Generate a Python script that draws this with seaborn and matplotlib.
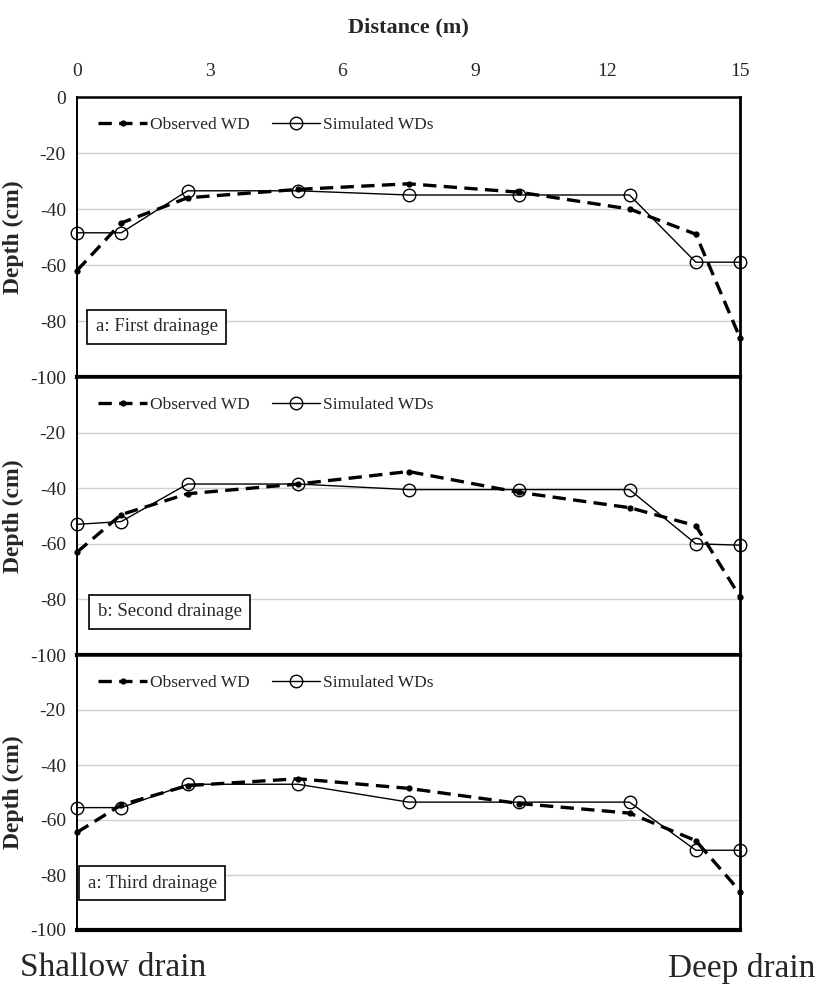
import seaborn as sns
import matplotlib.pyplot as plt
import pandas as pd
from matplotlib.lines import Line2D

# ---------------------------------------------------------------
# Data — water table depth along the drain spacing
# ---------------------------------------------------------------

distance = [0, 1, 2.5, 5, 7.5, 10, 12.5, 14, 15]

obs_first = [-62, -45, -36, -33, -31, -34, -40, -49, -86]
sim_first = [-48.5, -48.5, -33.5, -33.5, -35, -35, -35, -59, -59]

obs_second = [-63, -49.5, -42, -38.5, -34, -41.5, -47, -53.5, -79]
sim_second = [-53, -52, -38.5, -38.5, -40.5, -40.5, -40.5, -60, -60.5]

obs_third = [-64.5, -54.5, -47.5, -45, -48.5, -54, -57.5, -67.5, -86]
sim_third = [-55.5, -55.5, -47, -47, -53.5, -53.5, -53.5, -71, -71]

panel_labels = ["a: First drainage", "b: Second drainage", "a: Third drainage"]
x_ticks = [0, 3, 6, 9, 12, 15]

panels = [(obs_first, sim_first), (obs_second, sim_second), (obs_third, sim_third)]

# ---------------------------------------------------------------
# Styling
# ---------------------------------------------------------------

sns.set_theme(style="white")
plt.rcParams["font.family"] = ["Liberation Serif", "DejaVu Serif"]
plt.rcParams["axes.unicode_minus"] = False

fig = plt.figure(figsize=(8.18, 9.85), dpi=100)

W, H = 818, 985
left, right = 77 / W, 740 / W
edges = [97, 377, 655, 930]
label_boxes = [(0.028, 0.18), (0.031, 0.155), (0.016, 0.17)]

for i, (obs, sim) in enumerate(panels):
    top = 1 - edges[i] / H
    bottom = 1 - edges[i + 1] / H
    ax = fig.add_axes([left, bottom, right - left, top - bottom])

    df = pd.DataFrame({"Distance": distance, "Observed": obs, "Simulated": sim})

    sns.lineplot(data=df, x="Distance", y="Observed", ax=ax, color="black",
                 linestyle=(0, (4, 2.2)), linewidth=2.4, marker="o",
                 markersize=4.5, markeredgewidth=0, clip_on=False, zorder=3)
    sns.lineplot(data=df, x="Distance", y="Simulated", ax=ax, color="black",
                 linewidth=1.0, marker="o", markersize=9, markerfacecolor="none",
                 markeredgecolor="black", markeredgewidth=1.0, clip_on=False,
                 zorder=4)

    ax.set_xlim(0, 15)
    ax.set_ylim(-100, 0)
    if i == 0:
        ax.set_yticks([0, -20, -40, -60, -80, -100])
    else:
        ax.set_yticks([-20, -40, -60, -80, -100])
    ax.set_xticks(x_ticks)
    ax.yaxis.grid(True, color="#d0d0d0", linewidth=1.0)
    ax.set_axisbelow(True)

    ax.tick_params(axis="y", length=0, labelsize=14, pad=8)
    if i == 0:
        ax.xaxis.tick_top()
        ax.tick_params(axis="x", length=0, labelsize=14, pad=12)
        ax.set_xlabel("Distance (m)", fontsize=16, fontweight="bold", labelpad=22)
        ax.xaxis.set_label_position("top")
    else:
        ax.tick_params(axis="x", length=0, labelbottom=False)
        ax.set_xlabel("")

    ax.set_ylabel("Depth (cm)", fontsize=17, fontweight="bold")
    ax.yaxis.set_label_coords(-0.08, 0.5)

    for side, lw in [("top", 1.8), ("left", 1.4), ("right", 2.0), ("bottom", 3.0)]:
        ax.spines[side].set_color("black")
        ax.spines[side].set_linewidth(lw)
        ax.spines[side].set_visible(True)

    bx, by = label_boxes[i]
    ax.text(bx, by, panel_labels[i], transform=ax.transAxes, fontsize=13.5,
            ha="left", va="center",
            bbox=dict(boxstyle="square,pad=0.45", facecolor="white",
                      edgecolor="black", linewidth=1.2))

    handles = [
        Line2D([], [], color="black", linestyle=(0, (4, 2.2)), linewidth=2.4,
               marker="o", markersize=4.5, markeredgewidth=0),
        Line2D([], [], color="black", linewidth=1.0, marker="o", markersize=9,
               markerfacecolor="none", markeredgewidth=1.0),
    ]
    ax.legend(handles, ["Observed WD", "Simulated WDs"], loc="center",
              bbox_to_anchor=(0.285, 0.9), ncol=2, frameon=False, fontsize=12.5,
              handlelength=2.8, handletextpad=0.15, columnspacing=1.3)

fig.text(20 / W, 1 - 968 / H, "Shallow drain", fontsize=24, ha="left", va="center")
fig.text(815 / W, 1 - 968 / H, "Deep drain", fontsize=24, ha="right", va="center")

fig.savefig("out.png", dpi=100)
